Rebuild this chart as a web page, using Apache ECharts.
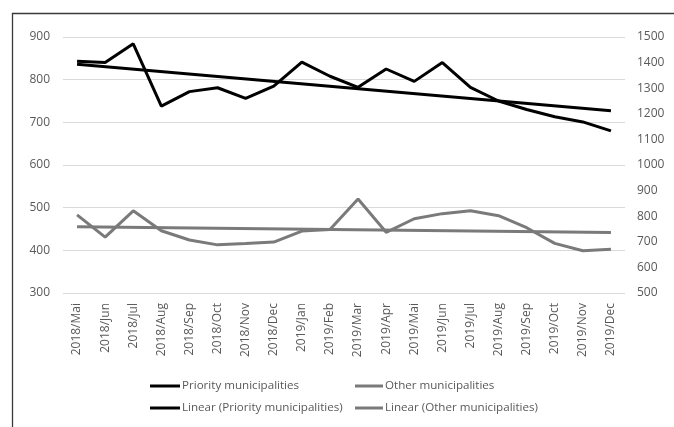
<!DOCTYPE html>
<html>
<head>
<meta charset="utf-8">
<script src="https://cdn.jsdelivr.net/npm/echarts@6/dist/echarts.min.js"></script>
<style>
  html, body { margin: 0; padding: 0; background: #fff; }
  #chart { width: 674px; height: 427px; }
</style>
</head>
<body>
<div id="chart"></div>
<script>
// Monthly categories
const months = [
  '2018/Mai', '2018/Jun', '2018/Jul', '2018/Aug', '2018/Sep', '2018/Oct', '2018/Nov', '2018/Dec',
  '2019/Jan', '2019/Feb', '2019/Mar', '2019/Apr', '2019/Mai', '2019/Jun', '2019/Jul', '2019/Aug',
  '2019/Sep', '2019/Oct', '2019/Nov', '2019/Dec'
];

// Priority municipalities (left axis)
const priority = [843, 840, 884, 738, 772, 781, 756, 785, 841, 808, 782, 825, 796, 840, 782, 750, 730, 713, 701, 680];

// Other municipalities (right axis)
const other = [805, 718, 821, 743, 707, 688, 693, 699, 742, 748, 867, 737, 790, 810, 821, 802, 755, 694, 665, 671];

// Linear trend end points (first and last month)
const priorityTrend = [836, 727];
const otherTrend = [759, 736];

// Axis ranges
const leftAxisTicks = { min: 300, max: 900, step: 100 };
const rightAxisTicks = { min: 500, max: 1500, step: 100 };

function trendSeries(ends) {
  const arr = months.map(() => null);
  arr[0] = ends[0];
  arr[arr.length - 1] = ends[1];
  return arr;
}

const FONT = '"Open Sans", sans-serif';
const TEXT = '#595959';
const BLACK = '#000000';
const GREY = '#7a7a7a';

const chart = echarts.init(document.getElementById('chart'), null, { renderer: 'canvas' });

chart.setOption({
  animation: false,
  backgroundColor: '#ffffff',
  textStyle: { fontFamily: FONT },
  grid: { left: 63, right: 49, top: 37, bottom: 134 },
  graphic: [{
    type: 'rect',
    shape: { x: 12.5, y: 13.5, width: 720, height: 500 },
    style: { fill: 'none', stroke: '#3a3a3a', lineWidth: 1.3 },
    silent: true,
    z: -1
  }],
  legend: [
    {
      orient: 'vertical',
      left: 145, top: 375,
      itemWidth: 30, itemHeight: 3, itemGap: 10,
      icon: 'rect',
      textStyle: { color: TEXT, fontSize: 11.6, fontFamily: FONT, padding: [0, 0, 0, -3] },
      data: ['Priority municipalities', 'Linear (Priority municipalities)']
    },
    {
      orient: 'vertical',
      left: 350, top: 375,
      itemWidth: 28, itemHeight: 3, itemGap: 10,
      icon: 'rect',
      textStyle: { color: TEXT, fontSize: 11.6, fontFamily: FONT, padding: [0, 0, 0, -3] },
      data: ['Other municipalities', 'Linear (Other municipalities)']
    }
  ],
  xAxis: {
    type: 'category',
    data: months,
    boundaryGap: true,
    axisLine: { show: false },
    axisTick: { show: false },
    axisLabel: { rotate: 90, color: TEXT, fontSize: 12, margin: 10, interval: 0, fontFamily: FONT }
  },
  yAxis: [
    {
      type: 'value',
      position: 'left',
      min: leftAxisTicks.min, max: leftAxisTicks.max, interval: leftAxisTicks.step,
      axisLine: { show: false },
      axisTick: { show: false },
      axisLabel: { color: TEXT, fontSize: 12, margin: 13, fontFamily: FONT },
      splitLine: { lineStyle: { color: '#d9d9d9', width: 1 } }
    },
    {
      type: 'value',
      position: 'right',
      min: rightAxisTicks.min, max: rightAxisTicks.max, interval: rightAxisTicks.step,
      axisLine: { show: false },
      axisTick: { show: false },
      axisLabel: { color: TEXT, fontSize: 12, margin: 12, fontFamily: FONT, formatter: v => String(v) },
      splitLine: { show: false }
    }
  ],
  series: [
    {
      name: 'Priority municipalities',
      type: 'line', yAxisIndex: 0,
      data: priority,
      symbol: 'none',
      itemStyle: { color: BLACK },
      lineStyle: { color: BLACK, width: 3 }
    },
    {
      name: 'Other municipalities',
      type: 'line', yAxisIndex: 1,
      data: other,
      symbol: 'none',
      itemStyle: { color: GREY },
      lineStyle: { color: GREY, width: 3 }
    },
    {
      name: 'Linear (Priority municipalities)',
      type: 'line', yAxisIndex: 0,
      data: trendSeries(priorityTrend),
      connectNulls: true,
      symbol: 'none',
      itemStyle: { color: BLACK },
      lineStyle: { color: BLACK, width: 3 }
    },
    {
      name: 'Linear (Other municipalities)',
      type: 'line', yAxisIndex: 1,
      data: trendSeries(otherTrend),
      connectNulls: true,
      symbol: 'none',
      itemStyle: { color: GREY },
      lineStyle: { color: GREY, width: 3 }
    }
  ]
});
</script>
</body>
</html>
